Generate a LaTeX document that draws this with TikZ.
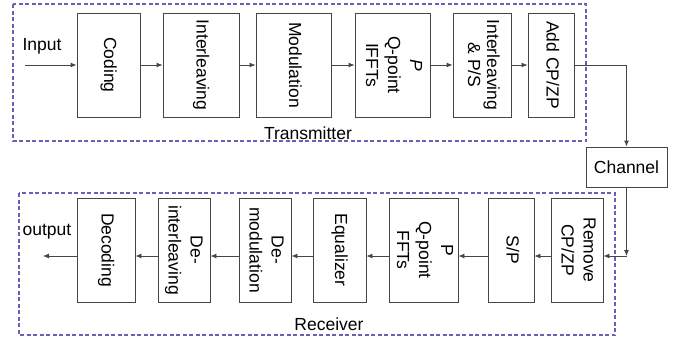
\documentclass[tikz,border=0pt]{standalone}
\usepackage{fontspec}
\setmainfont{Liberation Sans}
\usetikzlibrary{arrows.meta}
\definecolor{linec}{RGB}{70,70,70}
\definecolor{dashc}{RGB}{105,95,185}
\newcommand{\vtext}[1]{\rotatebox{-90}{\begin{tabular}{@{}c@{}}#1\end{tabular}}}
\tikzset{
  blk/.style={draw=linec, line width=0.9pt, inner sep=0pt, anchor=center},
  conn/.style={draw=linec, line width=0.9pt, -{Latex[length=6pt,width=5pt]}},
  group/.style={draw=dashc, line width=1.1pt, dash pattern=on 4pt off 2.5pt},
  lbl/.style={inner sep=0pt}
}
\begin{document}
\begin{tikzpicture}[x=1pt,y=-1pt,font=\fontsize{17.5}{22}\selectfont]
\useasboundingbox (0,0) rectangle (679,343);
% groups
\draw[group] (13,4) rectangle (586,141);
\draw[group] (19,193) rectangle (615,335);
% transmitter
\node[blk, minimum width=63pt, minimum height=104pt] (cod) at (108.5,65) {\vtext{Coding}};
\node[blk, minimum width=76pt, minimum height=104pt] (int) at (201,65) {\vtext{Interleaving}};
\node[blk, minimum width=75pt, minimum height=104pt] (mod) at (293.5,65) {\vtext{Modulation}};
\node[blk, minimum width=75pt, minimum height=104pt] (ifft) at (392.5,65) {\vtext{\textit{P}\\Q-point\\IFFTs}};
\node[blk, minimum width=58pt, minimum height=104pt] (ips) at (482,65) {\vtext{Interleaving\\[-3pt]\& P/S}};
\node[blk, minimum width=46pt, minimum height=104pt] (add) at (551,65) {\vtext{Add CP/ZP}};
\node[lbl] (inl) at (42,46) {Input};
\node[lbl] (txl) at (308,133) {Transmitter};
\coordinate (inp) at (25,65);
\draw[conn] (inp) -- (cod.west);
\draw[conn] (cod) -- (int);
\draw[conn] (int) -- (mod);
\draw[conn] (mod) -- (ifft);
\draw[conn] (ifft) -- (ips);
\draw[conn] (ips) -- (add);
% channel
\node[blk, minimum width=81pt, minimum height=40pt] (ch) at (626.5,167) {Channel};
\draw[conn] (add.east) -| (ch.north);
% receiver
\coordinate (ry) at (0,256);
\node[blk, minimum width=52pt, minimum height=104pt] (rem) at (577,250) {\vtext{Remove\\CP/ZP}};
\node[blk, minimum width=46pt, minimum height=104pt] (sp) at (511,250) {\vtext{S/P}};
\node[blk, minimum width=69pt, minimum height=104pt] (fft) at (423.5,250) {\vtext{P\\Q-point\\FFTs}};
\node[blk, minimum width=53pt, minimum height=104pt] (eq) at (339.5,250) {\vtext{Equalizer}};
\node[blk, minimum width=52pt, minimum height=104pt] (dem) at (265,250) {\vtext{De-\\modulation}};
\node[blk, minimum width=52pt, minimum height=104pt] (dei) at (184,250) {\vtext{De-\\interleaving}};
\node[blk, minimum width=58pt, minimum height=104pt] (dec) at (106,250) {\vtext{Decoding}};
\node[lbl] (outl) at (47,232) {output};
\node[lbl] (rxl) at (329,324) {Receiver};
\coordinate (corner) at (ch.south |- ry);
\coordinate (outp) at (43,256);
\draw[conn] (ch.south) -- (corner);
\draw[conn] (corner) -- (rem.east |- ry);
\draw[conn] (rem.west |- ry) -- (sp.east |- ry);
\draw[conn] (sp.west |- ry) -- (fft.east |- ry);
\draw[conn] (fft.west |- ry) -- (eq.east |- ry);
\draw[conn] (eq.west |- ry) -- (dem.east |- ry);
\draw[conn] (dem.west |- ry) -- (dei.east |- ry);
\draw[conn] (dei.west |- ry) -- (dec.east |- ry);
\draw[conn] (dec.west |- ry) -- (outp);
\end{tikzpicture}
\end{document}
